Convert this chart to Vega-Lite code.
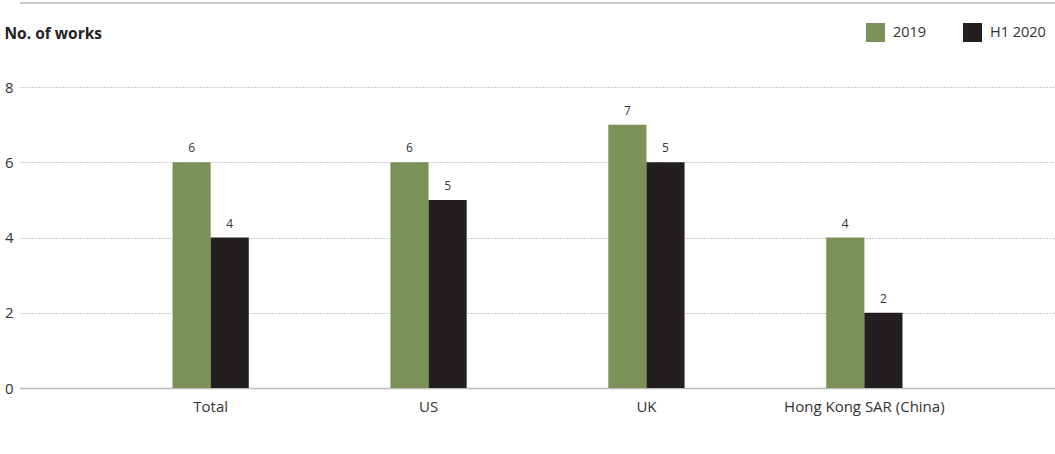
{
  "$schema": "https://vega.github.io/schema/vega-lite/v6.json",
  "autosize": "none",
  "width": 1035,
  "height": 301,
  "padding": {"left": 20, "top": 87, "right": 0, "bottom": 66},
  "background": "white",
  "config": {
    "font": "Open Sans",
    "view": {"stroke": null},
    "axis": {"labelFont": "Open Sans", "titleFont": "Open Sans"},
    "legend": {"labelFont": "Open Sans"},
    "text": {"font": "Open Sans"}
  },
  "data": {
    "values": [
      {"region": "Total", "period": "2019", "value": 6, "label": "6"},
      {"region": "Total", "period": "H1 2020", "value": 4, "label": "4"},
      {"region": "US", "period": "2019", "value": 6, "label": "6"},
      {"region": "US", "period": "H1 2020", "value": 5, "label": "5"},
      {"region": "UK", "period": "2019", "value": 7, "label": "7"},
      {"region": "UK", "period": "H1 2020", "value": 6, "label": "5"},
      {"region": "Hong Kong SAR (China)", "period": "2019", "value": 4, "label": "4"},
      {"region": "Hong Kong SAR (China)", "period": "H1 2020", "value": 2, "label": "2"}
    ]
  },
  "layer": [
    {
      "mark": {"type": "bar"},
      "encoding": {
        "x": {
          "field": "region",
          "type": "nominal",
          "sort": null,
          "scale": {"paddingInner": 0.65, "paddingOuter": 0.7},
          "axis": {
            "title": null,
            "labelAngle": 0,
            "labelFontSize": 15,
            "labelColor": "#333333",
            "labelPadding": 11,
            "ticks": false,
            "domainColor": "#bbbbbb",
            "domainWidth": 1.5
          }
        },
        "xOffset": {"field": "period", "type": "nominal", "scale": {"paddingInner": 0}},
        "y": {
          "field": "value",
          "type": "quantitative",
          "scale": {"domain": [0, 8]},
          "axis": {
            "values": [0, 2, 4, 6, 8],
            "grid": true,
            "title": "No. of works",
            "titleAngle": 0,
            "titleAlign": "left",
            "titleBaseline": "middle",
            "titleX": -16,
            "titleY": -54,
            "titleFontSize": 15.5,
            "titleFontWeight": "bold",
            "titleColor": "#222222",
            "labelFontSize": 15,
            "labelColor": "#333333",
            "labelPadding": 7,
            "ticks": false,
            "domain": false,
            "gridColor": "#999999",
            "gridDash": [1, 2],
            "gridWidth": 1
          }
        },
        "color": {
          "field": "period",
          "type": "nominal",
          "scale": {"domain": ["2019", "H1 2020"], "range": ["#7a9157", "#231f20"]},
          "legend": {
            "title": null,
            "orient": "none",
            "direction": "horizontal",
            "legendX": 846,
            "legendY": -64,
            "symbolType": "square",
            "symbolSize": 361,
            "symbolStrokeWidth": 0,
            "symbolOpacity": 1,
            "labelFontSize": 14.5,
            "labelColor": "#333333",
            "labelOffset": 8,
            "columnPadding": 36
          }
        }
      }
    },
    {
      "mark": {"type": "text", "dy": -14, "fontSize": 12, "color": "#333333", "font": "Open Sans"},
      "encoding": {
        "x": {"field": "region", "type": "nominal", "sort": null},
        "xOffset": {"field": "period", "type": "nominal"},
        "y": {"field": "value", "type": "quantitative"},
        "text": {"field": "label"}
      }
    },
    {
      "mark": {"type": "rule", "color": "#cccccc", "strokeWidth": 2},
      "encoding": {"y": {"datum": 10.23, "type": "quantitative"}}
    }
  ]
}
